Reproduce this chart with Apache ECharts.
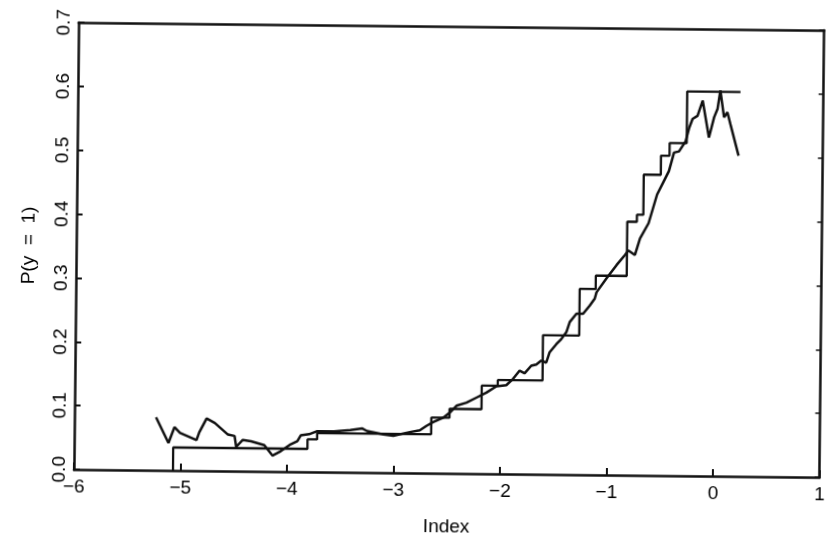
<!DOCTYPE html>
<html>
<head>
<meta charset="utf-8">
<script src="https://cdn.jsdelivr.net/npm/echarts@6/dist/echarts.min.js"></script>
<style>
  html, body { margin: 0; padding: 0; background: #fff; overflow: hidden; }
  /* the scanned original sits slightly tilted */
  #chart { width: 830px; height: 542px; transform: rotate(0.6deg); }
</style>
</head>
<body>
<div id="chart"></div>
<script>
  // step estimate: x where each level starts, and the level
  var stepX = [-5.07, -5.07, -3.81, -3.72, -2.65, -2.48, -2.18, -2.03, -1.61, -1.27, -1.12, -0.83, -0.74, -0.68, -0.52, -0.44, -0.28, 0.22]
  var stepY = [0, 0.036, 0.051, 0.061, 0.087, 0.101, 0.138, 0.147, 0.218, 0.291, 0.312, 0.397, 0.408, 0.471, 0.501, 0.521, 0.602, 0.602]

  // jagged (smoothed) estimate
  var smoothX = [-5.234, -5.115, -5.06, -5.007, -4.852, -4.827, -4.759, -4.681, -4.557, -4.495, -4.479, -4.417, -4.34, -4.215, -4.138, -4.06, -3.967, -3.905, -3.874, -3.796, -3.719, -3.563, -3.409, -3.3, -3.253, -3.098, -3.005, -2.85, -2.757, -2.695, -2.632, -2.539, -2.478, -2.415, -2.322, -2.229, -2.136, -2.043, -1.95, -1.887, -1.826, -1.779, -1.717, -1.67, -1.624, -1.577, -1.547, -1.484, -1.438, -1.391, -1.36, -1.298, -1.236, -1.174, -1.128, -1.112, -1.019, -0.926, -0.848, -0.817, -0.755, -0.709, -0.63, -0.553, -0.491, -0.444, -0.398, -0.351, -0.29, -0.258, -0.227, -0.181, -0.134, -0.072, -0.025, 0.006, 0.031, 0.068, 0.099, 0.129, 0.208]
  var smoothY = [0.083, 0.043, 0.068, 0.059, 0.048, 0.060, 0.082, 0.075, 0.057, 0.055, 0.038, 0.049, 0.047, 0.041, 0.025, 0.032, 0.043, 0.048, 0.057, 0.059, 0.064, 0.064, 0.066, 0.069, 0.065, 0.060, 0.058, 0.064, 0.067, 0.074, 0.080, 0.087, 0.095, 0.106, 0.111, 0.119, 0.127, 0.137, 0.139, 0.149, 0.162, 0.158, 0.170, 0.172, 0.178, 0.175, 0.191, 0.204, 0.212, 0.223, 0.239, 0.252, 0.252, 0.265, 0.276, 0.286, 0.308, 0.329, 0.345, 0.352, 0.345, 0.371, 0.395, 0.440, 0.461, 0.477, 0.506, 0.508, 0.524, 0.545, 0.559, 0.564, 0.588, 0.530, 0.562, 0.575, 0.604, 0.562, 0.570, 0.551, 0.502]

  var xTicks = [-6, -5, -4, -3, -2, -1, 0, 1]
  var yTicks = [0.0, 0.1, 0.2, 0.3, 0.4, 0.5, 0.6, 0.7]

  var myChart = echarts.init(document.getElementById('chart'))

  var font = { fontFamily: 'Liberation Sans', fontSize: 19, color: '#000' }
  var ink = '#111'

  function extend(a, b) {
    for (var k in b) a[k] = b[k]
    return a
  }

  var option = {
    animation: false,
    grid: {
      left: 76,
      right: 4,
      top: 26,
      bottom: 69,
      show: false
    },
    xAxis: [{
      type: 'value',
      min: xTicks[0],
      max: xTicks[xTicks.length - 1],
      interval: 1,
      position: 'bottom',
      name: 'Index',
      nameLocation: 'middle',
      nameGap: 44,
      nameTextStyle: font,
      axisLine: { show: true, onZero: false, lineStyle: { color: ink, width: 2.5 } },
      axisTick: { show: true, inside: true, length: 7, lineStyle: { color: ink, width: 2 } },
      axisLabel: extend({
        margin: 8,
        formatter: function(v) { return String(v).replace('-', '\u2212') }
      }, font),
      splitLine: { show: false }
    }, {
      // top border
      type: 'value',
      min: xTicks[0],
      max: xTicks[xTicks.length - 1],
      position: 'top',
      axisLine: { show: true, onZero: false, lineStyle: { color: ink, width: 2.5 } },
      axisTick: { show: false },
      axisLabel: { show: false },
      splitLine: { show: false }
    }],
    yAxis: [{
      type: 'value',
      min: yTicks[0],
      max: yTicks[yTicks.length - 1],
      interval: 0.1,
      position: 'left',
      name: 'P(y  =  1)',
      nameLocation: 'middle',
      nameRotate: 90,
      nameGap: 38,
      nameTextStyle: font,
      axisLine: { show: true, onZero: false, lineStyle: { color: ink, width: 2.5 } },
      axisTick: { show: true, inside: true, length: 6, lineStyle: { color: ink, width: 2 } },
      axisLabel: extend({
        margin: 5,
        rotate: 90,
        formatter: function(v) { return v.toFixed(1) }
      }, font),
      splitLine: { show: false }
    }, {
      // right border
      type: 'value',
      min: yTicks[0],
      max: yTicks[yTicks.length - 1],
      interval: 0.1,
      position: 'right',
      axisLine: { show: true, onZero: false, lineStyle: { color: ink, width: 2.5 } },
      axisTick: { show: true, inside: true, length: 5, lineStyle: { color: ink, width: 1.5 } },
      axisLabel: { show: false },
      splitLine: { show: false }
    }],
    series: [{
      type: 'line',
      step: 'end',
      symbol: 'none',
      silent: true,
      lineStyle: { color: ink, width: 2.3 },
      data: stepX.map(function(x, i) { return [x, stepY[i]] })
    }, {
      type: 'line',
      symbol: 'none',
      silent: true,
      lineStyle: { color: ink, width: 2.5 },
      data: smoothX.map(function(x, i) { return [x, smoothY[i]] })
    }]
  }

  myChart.setOption(option)
</script>
</body>
</html>
